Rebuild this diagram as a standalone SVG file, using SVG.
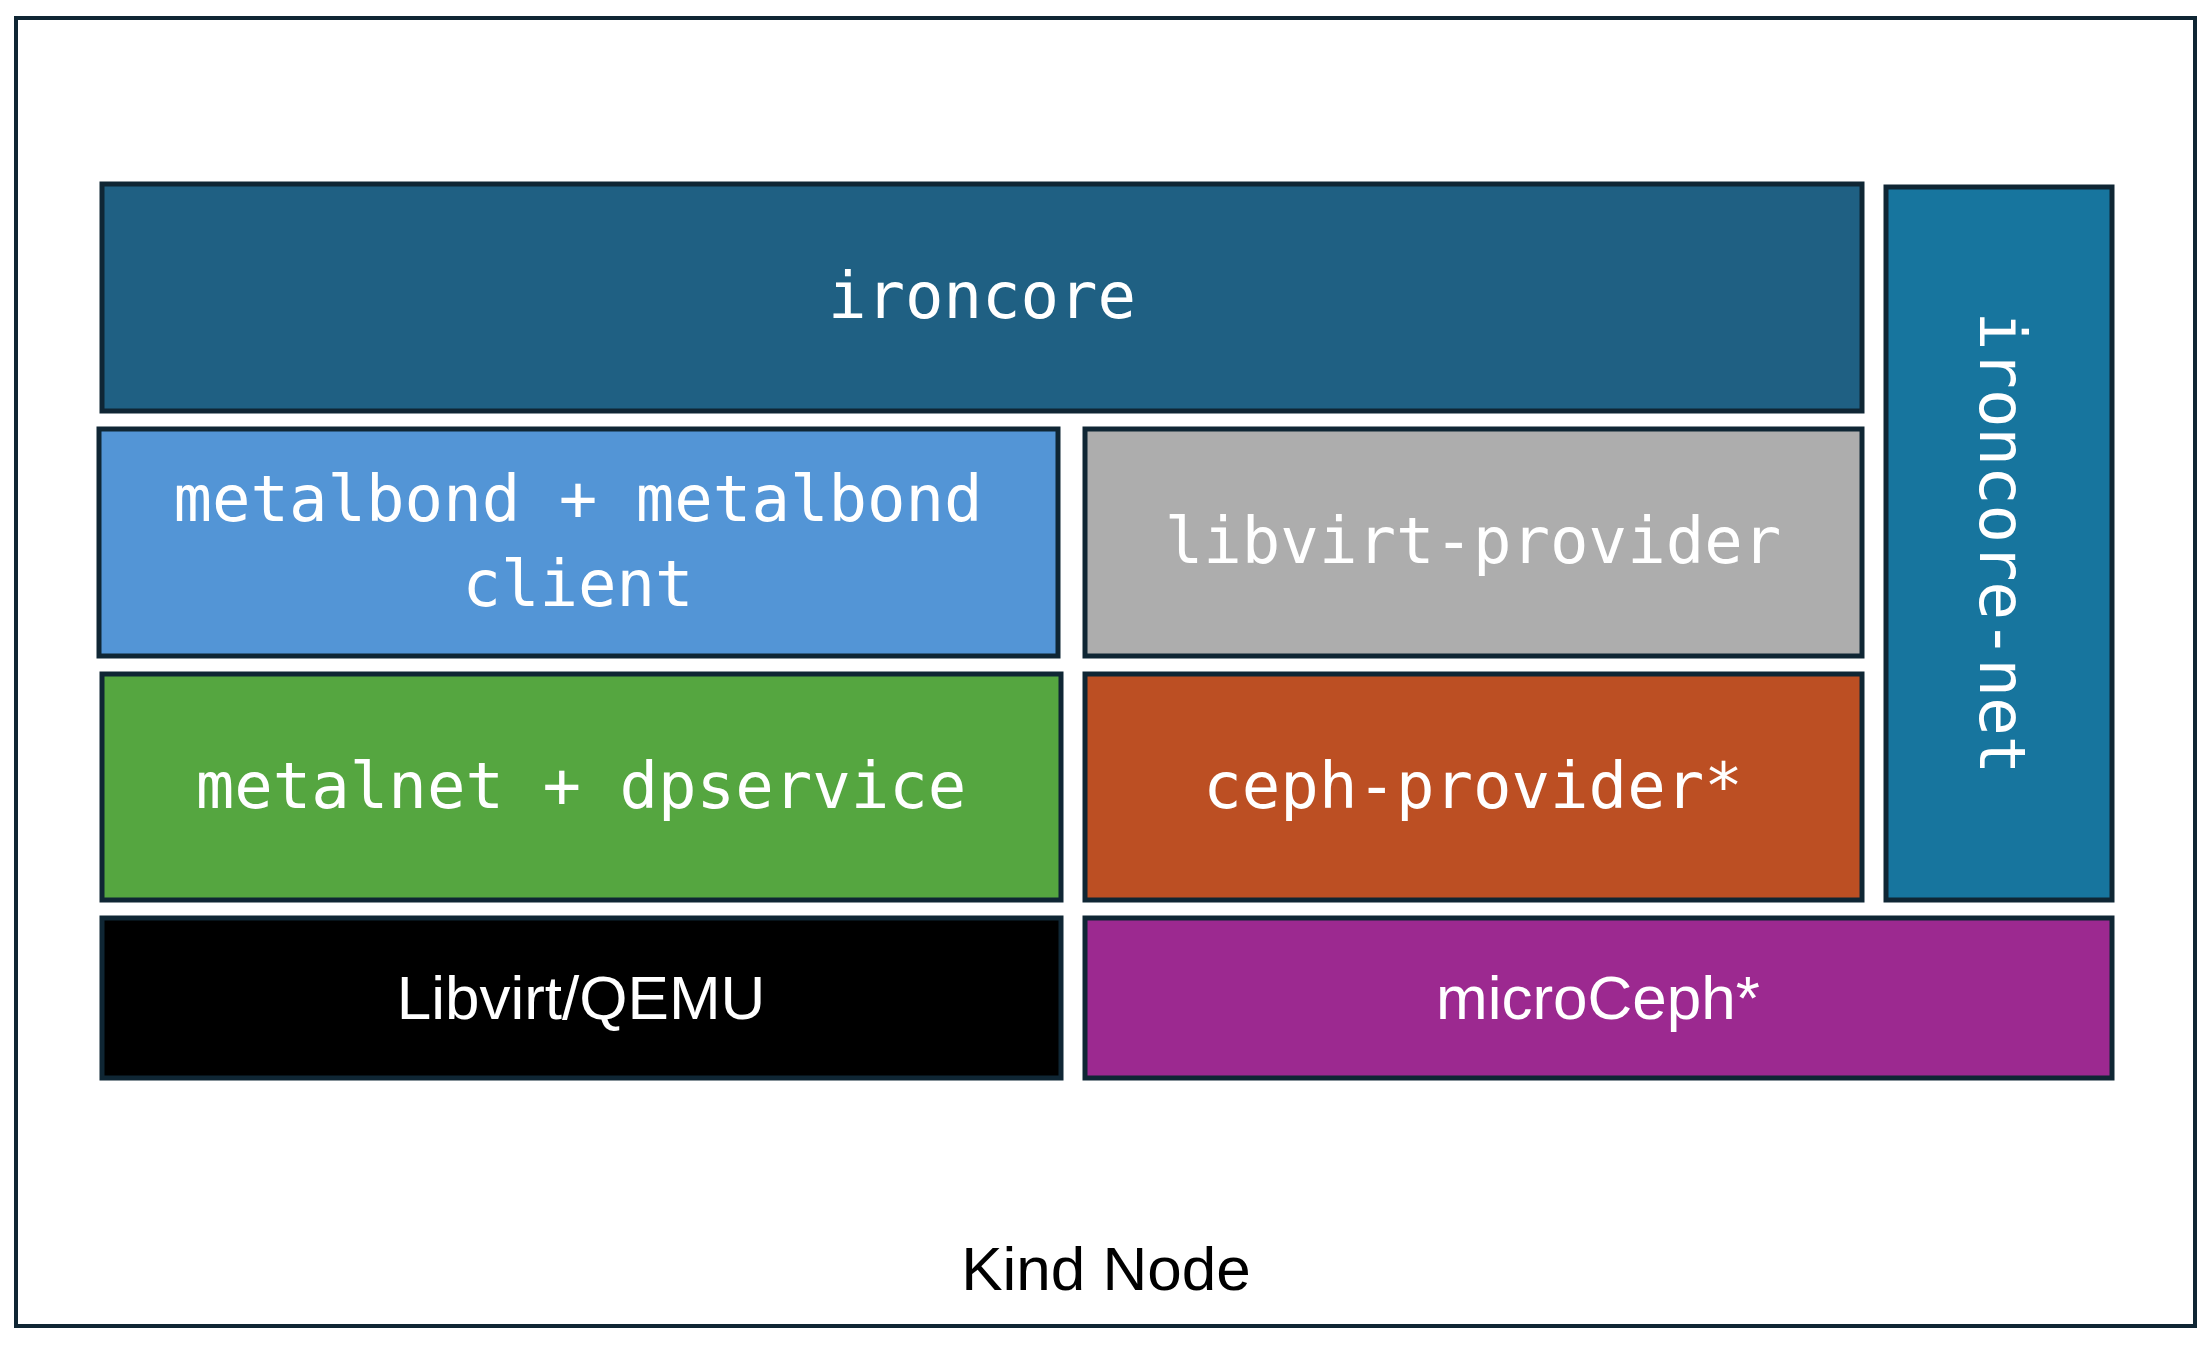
<svg xmlns="http://www.w3.org/2000/svg" width="2212" height="1346" viewBox="0 0 2212 1346">
<style>
.b{stroke:#0F2634;stroke-width:5}
.m{font-family:"DejaVu Sans Mono",monospace;font-size:64px;fill:#fff;text-anchor:middle}
.s{font-family:"Liberation Sans",Arial,sans-serif;font-size:62px;fill:#fff;text-anchor:middle}
</style>
<rect x="0" y="0" width="2212" height="1346" fill="#fff"/>
<g id="kind-node"><rect x="16" y="18" width="2179" height="1308" fill="#fff" stroke="#0F2634" stroke-width="4"/>
<text x="1106" y="1290" class="s" style="fill:#000">Kind Node</text></g>
<g id="ironcore"><rect class="b" x="102" y="184" width="1760" height="227" fill="#1F6083"/><text class="m" x="982" y="318">ironcore</text></g>
<g id="ironcore-net"><rect class="b" x="1886" y="187" width="226" height="713" fill="#17759E"/><text class="m" transform="translate(1980,543) rotate(90)" x="0" y="0">ironcore-net</text></g>
<g id="metalbond"><rect class="b" x="99" y="429" width="959" height="227" fill="#5395D6"/><text class="m" x="578" y="521">metalbond + metalbond</text><text class="m" x="578" y="606">client</text></g>
<g id="libvirt-provider"><rect class="b" x="1085" y="429" width="777" height="227" fill="#ADADAD"/><text class="m" x="1473" y="563">libvirt-provider</text></g>
<g id="metalnet"><rect class="b" x="102" y="674" width="959" height="226" fill="#55A640"/><text class="m" x="581" y="808">metalnet + dpservice</text></g>
<g id="ceph-provider"><rect class="b" x="1085" y="674" width="777" height="226" fill="#BC4F23"/><text class="m" x="1473" y="808">ceph-provider*</text></g>
<g id="libvirt-qemu"><rect class="b" x="102" y="918" width="959" height="160" fill="#000"/><text class="s" x="581" y="1019">Libvirt/QEMU</text></g>
<g id="microceph"><rect class="b" x="1085" y="918" width="1027" height="160" fill="#9C2990"/><text class="s" x="1598" y="1019">microCeph*</text></g>
<g id="connectors"/>
</svg>
